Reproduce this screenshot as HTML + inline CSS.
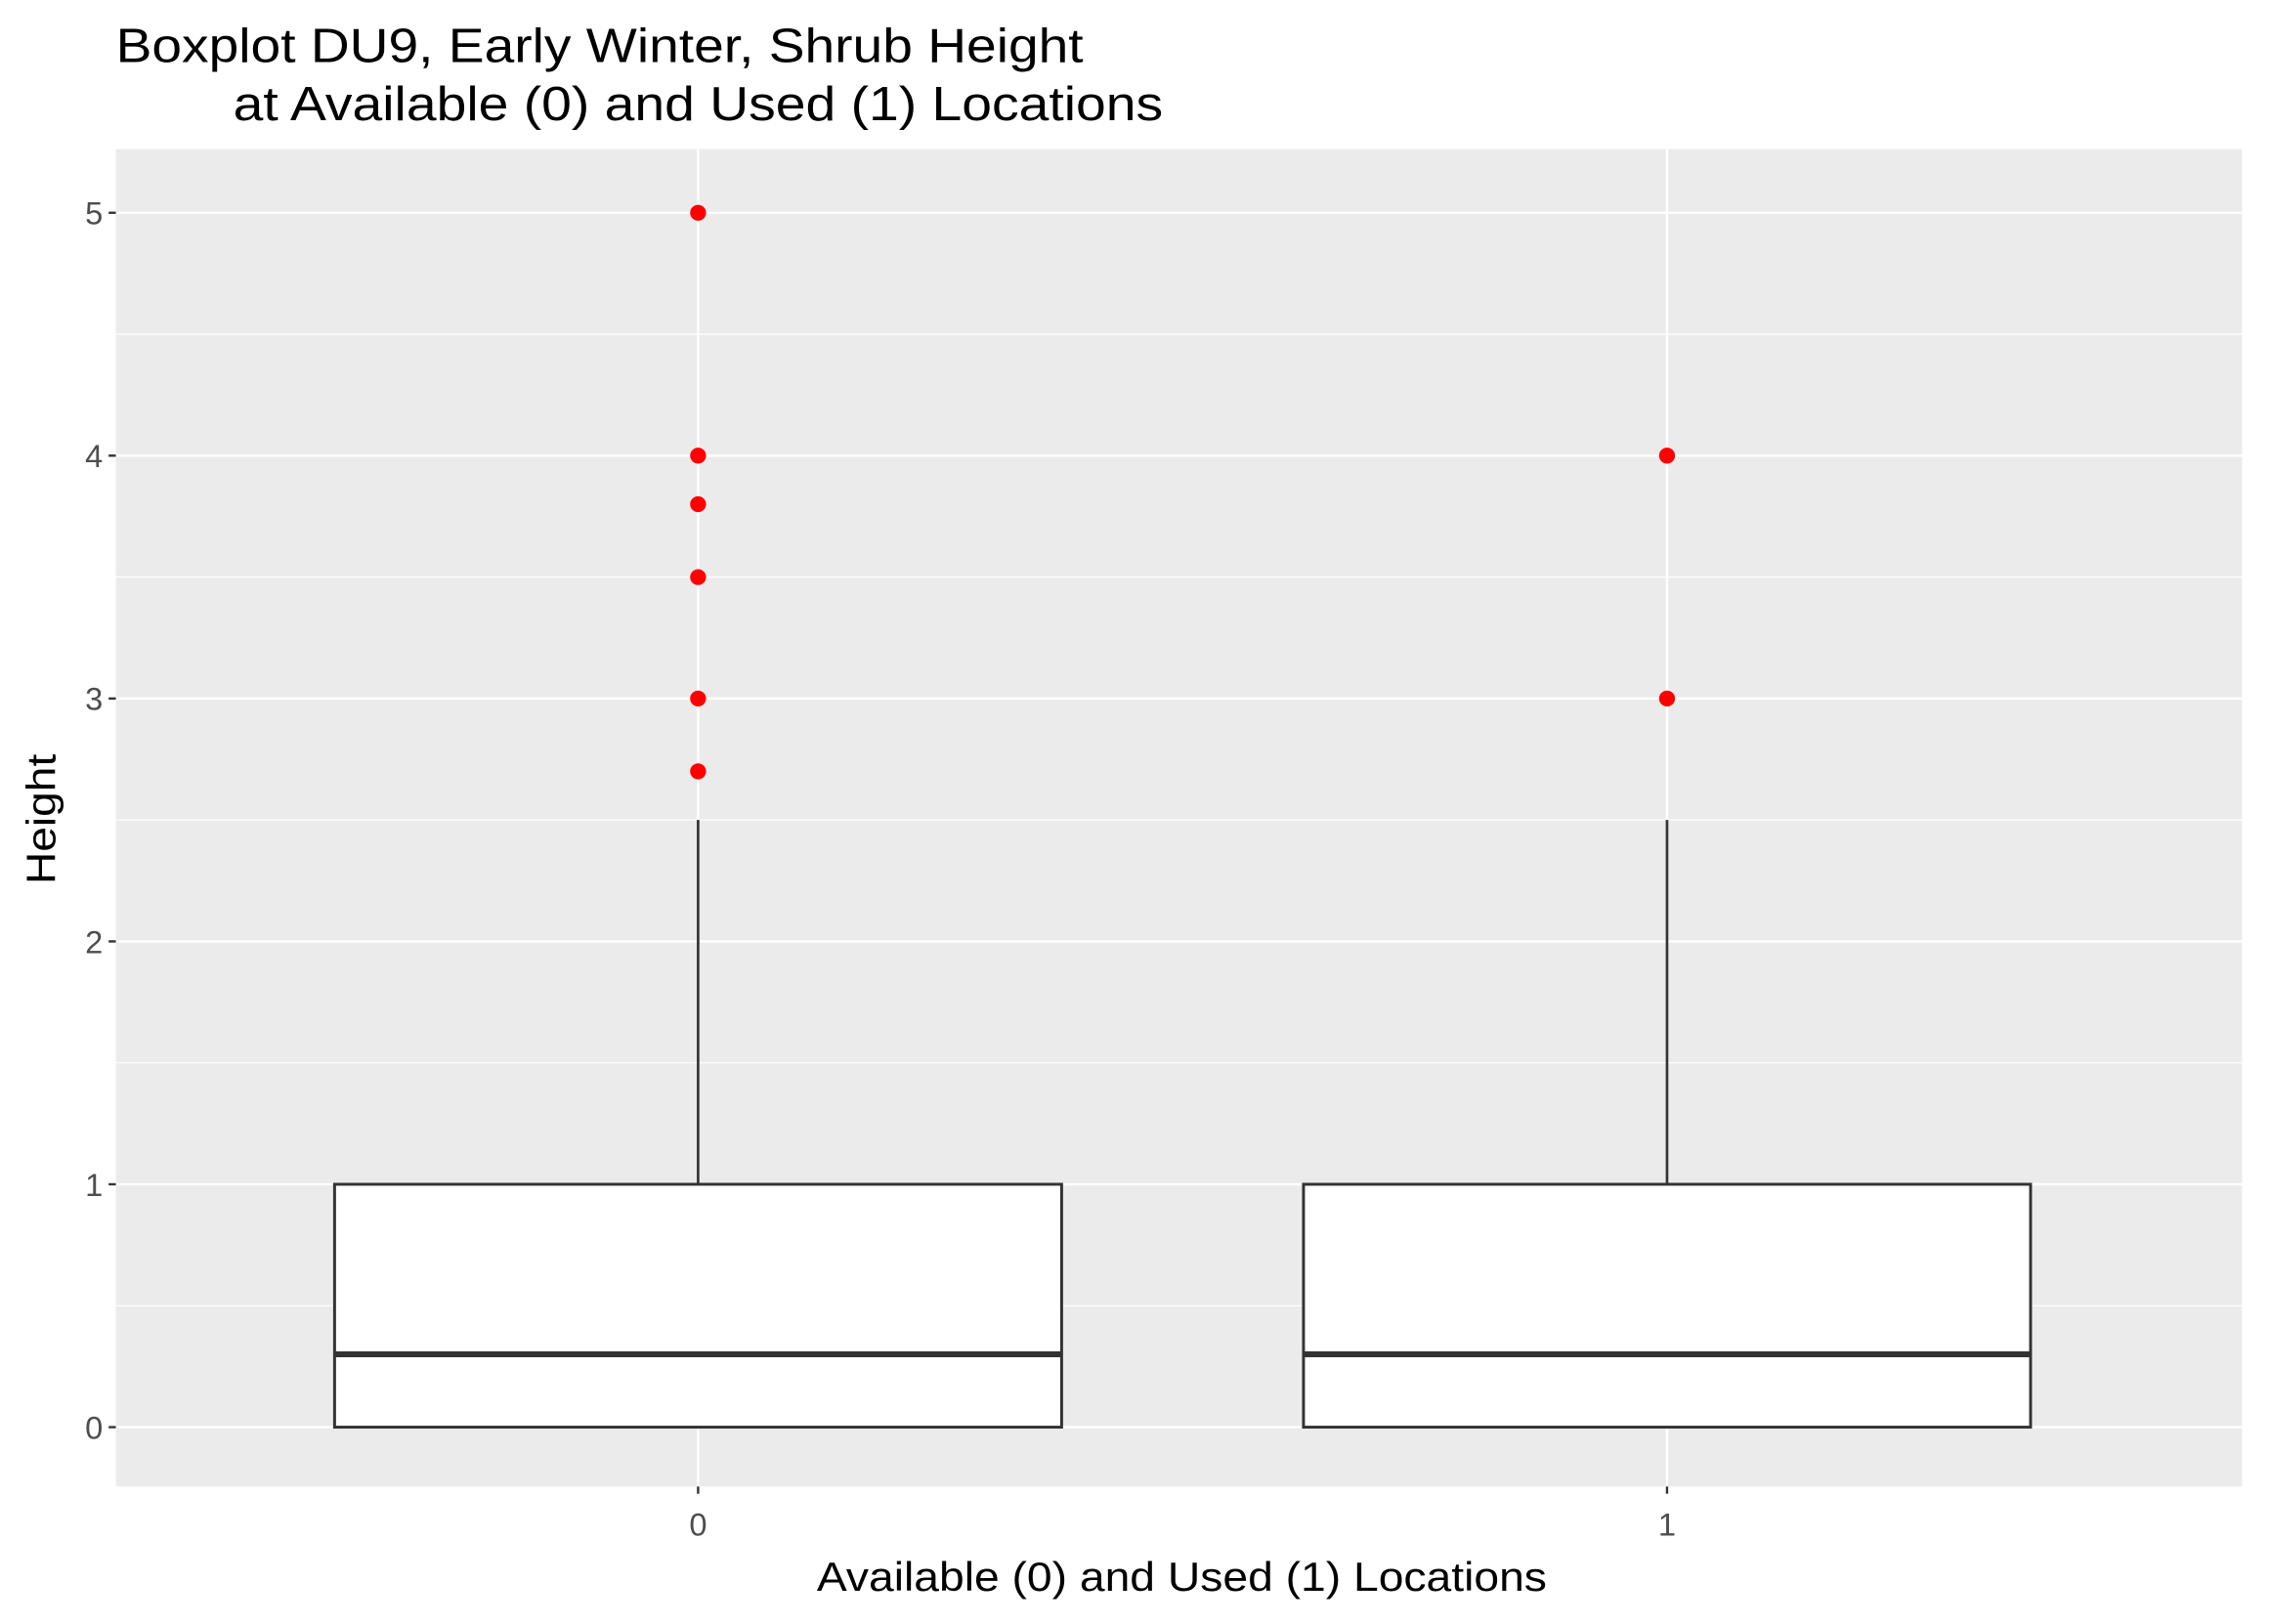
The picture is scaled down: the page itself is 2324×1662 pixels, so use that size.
<!DOCTYPE html>
<html><head><meta charset="utf-8"><style>
html,body{margin:0;padding:0;background:#fff;}
svg{display:block;font-family:"Liberation Sans",Arial,sans-serif;}
</style></head><body>
<svg id="chart" width="2324" height="1662" viewBox="0 0 1568 1122" preserveAspectRatio="none" xmlns="http://www.w3.org/2000/svg">
<text x="80" y="43" font-size="33" fill="#000" textLength="668" lengthAdjust="spacingAndGlyphs">Boxplot DU9, Early Winter, Shrub Height</text>
<text x="161" y="83" font-size="33" fill="#000" textLength="642" lengthAdjust="spacingAndGlyphs">at Available (0) and Used (1) Locations</text>
<rect x="80" y="103" width="1468" height="924" fill="#ebebeb"/>
<g id="grid"></g>
<g id="marks"></g>
<g id="axes"></g>
<text x="816" y="1099" font-size="28" text-anchor="middle" fill="#000" textLength="504" lengthAdjust="spacingAndGlyphs">Available (0) and Used (1) Locations</text>
<text transform="translate(38,566) rotate(-90)" font-size="28" text-anchor="middle" fill="#000" textLength="90" lengthAdjust="spacingAndGlyphs">Height</text>
</svg>
<script>
const categories = ["0", "1"];
const q1 = [0, 0];
const medians = [0.3, 0.3];
const q3 = [1, 1];
const whiskerLow = [0, 0];
const whiskerHigh = [2.5, 2.5];
const outliers0 = [5, 4, 3.8, 3.5, 3, 2.7];
const outliers1 = [4, 3];
const yTicks = [0, 1, 2, 3, 4, 5];

const NS = "http://www.w3.org/2000/svg";
const px0 = 80, px1 = 1548, py0 = 103, py1 = 1027;
function y(v){ return 986 + (147 - 986) * v / 5; }
function x(i){ return 482 + i * (1151 - 482); }
const halfW = 251;
function mk(tag, attrs, parent){
  const e = document.createElementNS(NS, tag);
  for (const k in attrs) e.setAttribute(k, attrs[k]);
  parent.appendChild(e); return e;
}
const grid = document.getElementById('grid');
const marks = document.getElementById('marks');
const axes = document.getElementById('axes');
for (let i = 0; i < yTicks.length - 1; i++) {
  const v = (yTicks[i] + yTicks[i+1]) / 2;
  const l = mk('line', {x1:px0, x2:px1, y1:y(v), y2:y(v), stroke:'#fff', 'stroke-width':0.8}, grid);
  
  
}
yTicks.forEach(v => {
  const l = mk('line', {x1:px0, x2:px1, y1:y(v), y2:y(v), stroke:'#fff', 'stroke-width':1.6}, grid);
  
  
  const t = mk('line', {x1:75, x2:80, y1:y(v), y2:y(v), stroke:'#333', 'stroke-width':1.6}, axes);
  
  
  const tx = mk('text', {x:71, y:y(v)+8, 'font-size':22, fill:'#4d4d4d', 'text-anchor':'end'}, axes);
  tx.textContent = v;
  
  
});
categories.forEach((c, i) => {
  const l = mk('line', {x1:x(i), x2:x(i), y1:py0, y2:py1, stroke:'#fff', 'stroke-width':1.6}, grid);
  
  
  const t = mk('line', {x1:x(i), x2:x(i), y1:1027, y2:1032, stroke:'#333', 'stroke-width':1.6}, axes);
  
  
  const tx = mk('text', {x:x(i), y:1061, 'font-size':22, fill:'#4d4d4d', 'text-anchor':'middle'}, axes);
  tx.textContent = c;
  
  

  const w = mk('line', {x1:x(i), x2:x(i), y1:y(q3[i]), y2:y(whiskerHigh[i]), stroke:'#333', 'stroke-width':1.8}, marks);
  
  
  const wl = mk('line', {x1:x(i), x2:x(i), y1:y(q1[i]), y2:y(whiskerLow[i]), stroke:'#333', 'stroke-width':1.8}, marks);
  
  
  const b = mk('rect', {x:x(i)-halfW, y:y(q3[i]), width:2*halfW, height:y(q1[i])-y(q3[i]), fill:'#fff', stroke:'#333', 'stroke-width':2}, marks);
  
  
  const m = mk('line', {x1:x(i)-halfW, x2:x(i)+halfW, y1:y(medians[i]), y2:y(medians[i]), stroke:'#333', 'stroke-width':4}, marks);
  
  
  const outs = i === 0 ? outliers0 : outliers1;
  outs.forEach(v => {
    const p = mk('circle', {cx:x(i), cy:y(v), r:5.5, fill:'#ff0000'}, marks);
    
    
  });
});
</script>
</body></html>
